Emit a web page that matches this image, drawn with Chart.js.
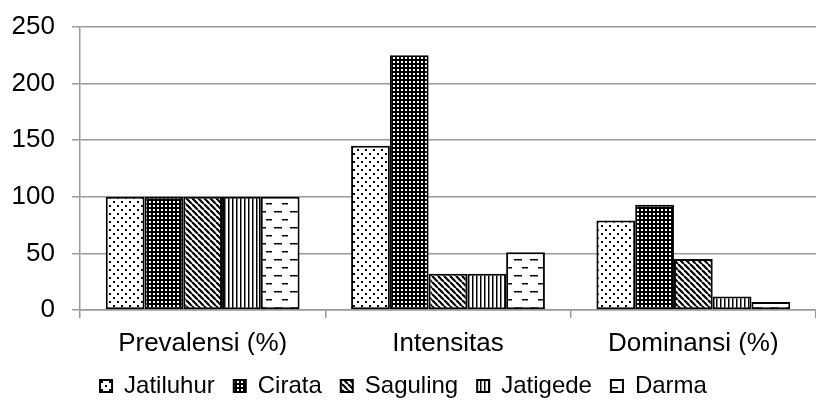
<!DOCTYPE html>
<html>
<head>
<meta charset="utf-8">
<script src="https://cdn.jsdelivr.net/npm/chart.js@4"></script>
<style>
  html, body { margin: 0; padding: 0; background: #fff; overflow: hidden; }
  #wrap { width: 816px; height: 409px; }
</style>
</head>
<body>
<div id="wrap"><canvas id="c" width="816" height="409"></canvas></div>
<script>
const categories = ["Prevalensi (%)", "Intensitas", "Dominansi (%)"];
const seriesNames = ["Jatiluhur", "Cirata", "Saguling", "Jatigede", "Darma"];
const jatiluhur = [100, 145, 79];
const cirata = [100, 225, 93];
const saguling = [100, 32, 45];
const jatigede = [100, 32, 12];
const darma = [100, 51, 7];
const yTicks = [0, 50, 100, 150, 200, 250];

// small tiles for the black & white hatch fills
function tile(w, h, paint) {
  const c = document.createElement("canvas");
  c.width = w; c.height = h;
  const g = c.getContext("2d");
  g.fillStyle = "#fff";
  g.fillRect(0, 0, w, h);
  g.fillStyle = "#000";
  g.strokeStyle = "#000";
  paint(g);
  return document.getElementById("c").getContext("2d").createPattern(c, "repeat");
}

const patterns = [
  // sparse dots
  tile(8, 8, (g) => { g.fillRect(1, 1, 2, 2); g.fillRect(5, 5, 2, 2); }),
  // dense black with white dots
  tile(4, 4, (g) => { g.fillRect(0, 0, 4, 4); g.fillStyle = "#fff"; g.fillRect(1, 1, 2, 2); }),
  // diagonal stripes
  tile(6, 6, (g) => {
    g.lineWidth = 2.2;
    for (let k = -6; k <= 12; k += 6) {
      g.beginPath(); g.moveTo(k, 0); g.lineTo(k + 6, 6); g.stroke();
    }
  }),
  // vertical stripes
  tile(4, 4, (g) => { g.fillRect(0, 0, 1.5, 4); }),
  // horizontal dashes
  tile(16, 16, (g) => { g.fillRect(2, 3, 8, 1.5); g.fillRect(10, 11, 8, 1.5); }),
];

const values = [jatiluhur, cirata, saguling, jatigede, darma];
const family = "'Liberation Sans', Arial, sans-serif";
const axisFont = { family, size: 26 };
const legendFont = { family, size: 24 };
const gridGray = "#9a9a9a";

// nudge the legend: the plot runs past the right edge, the legend does not
const legendShift = {
  id: "legendShift",
  afterLayout(chart) {
    const lg = chart.legend;
    if (!lg) return;
    lg.left -= 10;
    lg.right -= 10;
  },
};

new Chart(document.getElementById("c"), {
  type: "bar",
  data: {
    labels: categories,
    datasets: seriesNames.map((name, i) => ({
      label: name,
      data: values[i],
      backgroundColor: patterns[i],
      borderColor: "#000",
      borderWidth: 2,
      borderSkipped: false,
      barPercentage: 1,
      categoryPercentage: 0.79,
    })),
  },
  options: {
    responsive: false,
    animation: false,
    layout: { padding: { left: 0, right: -11, top: 27, bottom: 1 } },
    plugins: {
      tooltip: { enabled: false },
      legend: {
        position: "bottom",
        labels: {
          font: legendFont,
          color: "#000",
          boxWidth: 12,
          boxHeight: 12,
          padding: 19,
        },
      },
    },
    scales: {
      x: {
        grid: { drawOnChartArea: false, color: gridGray, lineWidth: 1.5, tickLength: 8 },
        border: { color: gridGray, width: 1.5 },
        ticks: { font: axisFont, color: "#000", padding: 10 },
        afterFit: (s) => { s.height = 45; },
      },
      y: {
        min: 0,
        max: 250,
        afterBuildTicks: (ax) => { ax.ticks = yTicks.map((v) => ({ value: v })); },
        grid: { color: gridGray, lineWidth: 1.5, tickLength: 8 },
        border: { color: gridGray, width: 1.5 },
        ticks: { font: axisFont, color: "#000", padding: 17 },
        afterFit: (s) => { s.width = 80; s.paddingTop = 0; s.paddingBottom = 0; },
      },
    },
  },
  plugins: [legendShift],
});
</script>
</body>
</html>
